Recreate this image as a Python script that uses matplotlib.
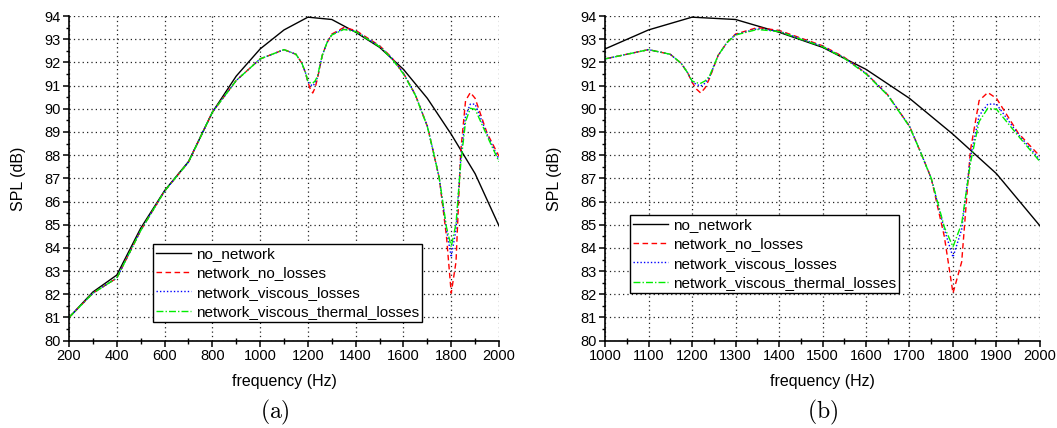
import numpy as np
import matplotlib.pyplot as plt
from matplotlib.ticker import MultipleLocator

plt.rcParams['font.family'] = ['Liberation Sans', 'DejaVu Sans']
plt.rcParams['mathtext.fontset'] = 'cm'

# reference curve (no network), 100 Hz steps
f_ref = [200, 300, 400, 500, 600, 700, 800, 900, 1000, 1100, 1200,
         1300, 1400, 1500, 1600, 1700, 1800, 1900, 2000]
spl_ref = [81.0, 82.1, 82.83, 84.85, 86.47, 87.72, 89.85, 91.41, 92.58, 93.4, 93.95,
           93.85, 93.3, 92.65, 91.7, 90.45, 88.9, 87.2, 84.95]

# network curves
f_net = [200, 300, 400, 500, 600, 700, 800, 900, 1000, 1050, 1100, 1150, 1175, 1190,
         1200, 1210, 1220, 1230, 1240, 1260, 1280, 1300, 1350, 1400, 1450, 1500,
         1550, 1600, 1650, 1700, 1725, 1750, 1780, 1800, 1820, 1840, 1860, 1880,
         1900, 1950, 2000]
spl_no_loss = [81.0, 82.05, 82.7, 84.75, 86.45, 87.7, 89.85, 91.22, 92.15, 92.35, 92.55, 92.35, 91.96, 91.55,
               91.15, 90.85, 90.68, 90.9, 91.3, 92.3, 92.85, 93.22, 93.5, 93.38, 93.05, 92.72,
               92.22, 91.53, 90.6, 89.25, 88.15, 87.0, 84.5, 82.05, 83.4, 88.2, 90.35, 90.7,
               90.45, 88.95, 87.95]
spl_visc = [81.0, 82.05, 82.7, 84.75, 86.45, 87.7, 89.85, 91.22, 92.15, 92.35, 92.55, 92.35, 91.96, 91.55,
            91.17, 91.05, 90.98, 91.1, 91.35, 92.3, 92.85, 93.2, 93.45, 93.35, 93.02, 92.7,
            92.2, 91.53, 90.6, 89.25, 88.15, 87.0, 84.8, 83.6, 84.8, 87.9, 89.7, 90.2,
            90.2, 88.9, 87.8]
spl_visc_th = [81.0, 82.05, 82.7, 84.75, 86.45, 87.7, 89.85, 91.22, 92.15, 92.35, 92.55, 92.35, 91.96, 91.55,
               91.2, 91.12, 91.1, 91.2, 91.4, 92.3, 92.85, 93.18, 93.42, 93.33, 93.0, 92.68,
               92.18, 91.5, 90.58, 89.23, 88.15, 87.0, 84.9, 84.05, 85.05, 87.65, 89.45, 90.02,
               89.98, 88.83, 87.72]

fig = plt.figure(figsize=(10.57, 4.28), dpi=100)
ax_a = fig.add_axes([0.0653, 0.204, 0.4068, 0.7586])
ax_b = fig.add_axes([0.5724, 0.204, 0.4115, 0.7586])


def draw(ax, xlim, major, minor, leg_anchor):
    ax.plot(f_ref, spl_ref, color='black', lw=1.0, label='no_network')
    ax.plot(f_net, spl_no_loss, color='#ff0000', lw=1.0, ls=(0, (4, 2.5)),
            label='network_no_losses')
    ax.plot(f_net, spl_visc, color='#0000ff', lw=1.0, ls=(0, (1, 1.5)),
            label='network_viscous_losses')
    ax.plot(f_net, spl_visc_th, color='#00ee00', lw=1.0, ls=(0, (5, 1.5, 1, 1.5)),
            label='network_viscous_thermal_losses')
    ax.set_xlim(*xlim)
    ax.set_ylim(80, 94)
    ax.xaxis.set_major_locator(MultipleLocator(major))
    ax.xaxis.set_minor_locator(MultipleLocator(minor))
    ax.yaxis.set_major_locator(MultipleLocator(1))
    ax.yaxis.set_minor_locator(MultipleLocator(0.5))
    ax.grid(True, which='major', color='#222222', lw=0.9, ls=(0, (1, 2.5)))
    for s in ('top', 'right'):
        ax.spines[s].set_visible(False)
    for s in ('left', 'bottom'):
        ax.spines[s].set_linewidth(1.2)
    ax.tick_params(which='major', direction='out', length=4, width=1.1,
                   labelsize=10.5, pad=2)
    ax.tick_params(axis='y', which='minor', direction='out', length=2.5, width=1)
    ax.tick_params(axis='x', which='minor', direction='inout', length=4, width=1)
    ax.set_xlabel('frequency (Hz)', fontsize=11.5, labelpad=8)
    ax.set_ylabel('SPL (dB)', fontsize=11.5, labelpad=13)
    leg = ax.legend(loc='upper left', bbox_to_anchor=leg_anchor,
                    fontsize=11, handlelength=2.3, handletextpad=0.3,
                    labelspacing=0.35, borderpad=0.2, borderaxespad=0,
                    fancybox=False, framealpha=1, edgecolor='black')
    leg.get_frame().set_linewidth(1.0)


draw(ax_a, (200, 2000), 200, 100, (0.195, 0.298))
draw(ax_b, (1000, 2000), 100, 50, (0.057, 0.387))

fig.text(0.2597, 0.037, r'$\mathrm{(a)}$', ha='center', va='center', fontsize=17)
fig.text(0.778, 0.037, r'$\mathrm{(b)}$', ha='center', va='center', fontsize=17)

fig.savefig('out.png', dpi=100)
